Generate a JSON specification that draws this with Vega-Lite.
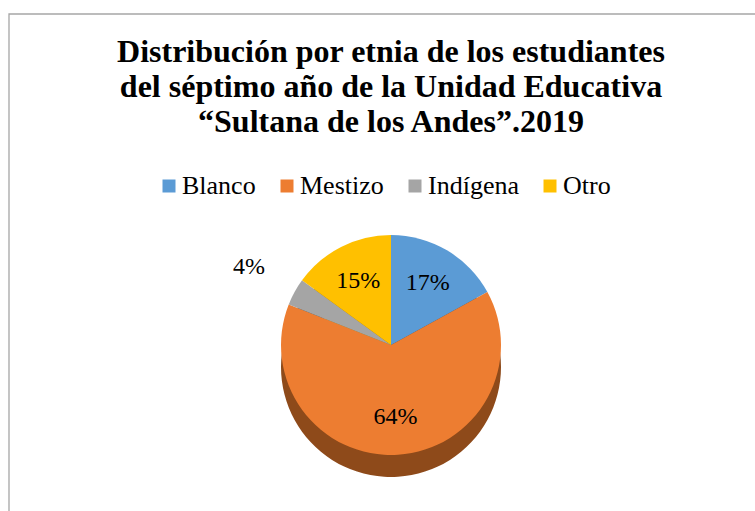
{
  "$schema": "https://vega.github.io/schema/vega-lite/v6.json",
  "autosize": {"type": "none"},
  "width": 764,
  "height": 662,
  "padding": {"left": 9, "top": 14, "right": -18, "bottom": -165},
  "background": "white",
  "config": {
    "view": {"stroke": null},
    "font": "Liberation Serif"
  },
  "title": {
    "text": ["Distribución por etnia de los estudiantes", "del séptimo año de la Unidad Educativa", "“Sultana de los Andes”.2019"],
    "font": "Liberation Serif",
    "fontSize": 32,
    "fontWeight": "bold",
    "color": "#000000",
    "lineHeight": 35,
    "anchor": "middle",
    "orient": "top",
    "offset": -126
  },
  "data": {
    "values": [
      {"etnia": "Blanco", "porcentaje": 0.17, "orden": 1},
      {"etnia": "Mestizo", "porcentaje": 0.64, "orden": 2},
      {"etnia": "Indígena", "porcentaje": 0.04, "orden": 3},
      {"etnia": "Otro", "porcentaje": 0.15, "orden": 4}
    ]
  },
  "layer": [
    {
      "data": {"values": [{"marco": "borde"}]},
      "mark": {"type": "rect", "fill": "white", "stroke": "#A6A6A6", "strokeWidth": 1.3},
      "encoding": {}
    },
    {
      "mark": {"type": "arc", "outerRadius": 110, "yOffset": 22},
      "encoding": {
        "theta": {"field": "porcentaje", "type": "quantitative", "stack": true},
        "order": {"field": "orden", "type": "quantitative"},
        "color": {
          "field": "etnia", "type": "nominal",
          "scale": {"domain": ["Blanco", "Mestizo", "Indígena", "Otro"], "range": ["#2F4F6F", "#8E4A1A", "#4A4A4A", "#9E7700"]},
          "legend": null
        }
      }
    },
    {
      "mark": {"type": "arc", "outerRadius": 110},
      "encoding": {
        "theta": {"field": "porcentaje", "type": "quantitative", "stack": true},
        "order": {"field": "orden", "type": "quantitative"},
        "color": {
          "field": "etnia", "type": "nominal",
          "scale": {"domain": ["Blanco", "Mestizo", "Indígena", "Otro"], "range": ["#5B9BD5", "#ED7D31", "#A5A5A5", "#FFC000"]},
          "legend": {
            "title": null,
            "orient": "none",
            "legendX": 147,
            "legendY": 159,
            "direction": "horizontal",
            "symbolType": "square",
            "symbolSize": 169,
            "symbolStrokeWidth": 0,
            "labelFont": "Liberation Serif",
            "labelFontSize": 26,
            "labelColor": "#000000",
            "labelOffset": 0,
            "columnPadding": 18,
            "padding": 0
          }
        }
      }
    },
    {
      "mark": {"type": "text", "radius": 72, "font": "Liberation Serif", "fontSize": 24, "fill": "#000000"},
      "encoding": {
        "theta": {"field": "porcentaje", "type": "quantitative", "stack": true},
        "order": {"field": "orden", "type": "quantitative"},
        "detail": {"field": "etnia", "type": "nominal"},
        "text": {
          "condition": {"test": "datum.etnia == 'Indígena'", "value": ""},
          "field": "porcentaje", "type": "quantitative", "format": ".0%"
        }
      }
    },
    {
      "mark": {"type": "text", "radius": 162, "font": "Liberation Serif", "fontSize": 24, "fill": "#000000"},
      "encoding": {
        "theta": {"field": "porcentaje", "type": "quantitative", "stack": true},
        "order": {"field": "orden", "type": "quantitative"},
        "detail": {"field": "etnia", "type": "nominal"},
        "text": {
          "condition": {"test": "datum.etnia != 'Indígena'", "value": ""},
          "field": "porcentaje", "type": "quantitative", "format": ".0%"
        }
      }
    }
  ],
  "resolve": {"scale": {"color": "independent"}}
}
